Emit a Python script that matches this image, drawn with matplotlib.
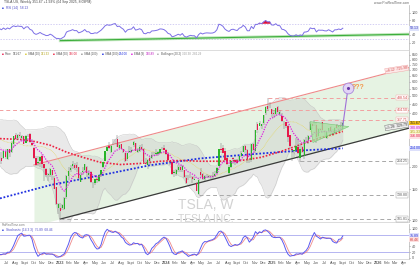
import numpy as np
import pandas as pd
import matplotlib
matplotlib.use('Agg')
import matplotlib.pyplot as plt
import matplotlib.dates as mdates
from matplotlib.ticker import FixedLocator, NullLocator

plt.rcParams['font.family'] = ['Liberation Sans', 'DejaVu Sans']

# ---- weekly TSLA candles, first week 2022-01-24 ----
week_start = '2022-01-24'
opens = [301, 290, 306, 287, 280, 271, 285, 260, 305, 350, 363, 327, 330, 330, 287, 277, 254, 218, 244, 239,
         225, 223, 245, 220, 251, 243, 269, 301, 290, 302, 292, 297, 272, 300, 307, 272, 255, 223, 210, 215,
         231, 208, 195, 180, 180, 191, 174, 154, 117,
         118, 118, 116, 136, 178, 193, 202, 204, 206, 199, 164, 186, 192, 199, 180, 186, 164, 163, 170, 166,
         180, 200, 217, 245, 263, 243, 276, 278, 286, 255, 268, 251, 239, 221, 242, 242, 265, 271, 243, 245,
         260, 252, 210, 204, 223, 224, 235, 236, 235, 239, 253, 255,
         250, 236, 216, 212, 185, 182, 192, 199, 192, 192, 174, 170, 176, 176, 169, 162, 140, 186, 183, 170,
         180, 176, 178, 176, 177, 184, 201, 253, 254, 245, 224, 185, 199, 223, 218, 216, 216, 229, 242, 262,
         247, 220, 218, 270, 245, 346, 340, 341, 352, 400, 441, 431, 420,
         400, 397, 432, 395, 387, 356, 355, 338, 300, 252, 245, 249, 260, 224, 259, 230, 288, 281, 321, 346,
         347, 343, 298, 327, 356, 319, 291, 317, 335, 310, 308, 345, 335, 340, 328]
highs = [311, 311, 315, 306, 285, 296, 290, 306, 340, 384, 383, 345, 368, 341, 318, 285, 264, 243, 264, 254,
         242, 245, 252, 253, 252, 280, 298, 311, 304, 314, 302, 299, 300, 304, 309, 288, 257, 229, 230, 230,
         237, 208, 196, 185, 198, 192, 177, 155, 125,
         125, 124, 136, 179, 199, 206, 217, 210, 212, 199, 186, 199, 208, 202, 191, 189, 165, 171, 174, 181,
         193, 214, 245, 263, 276, 265, 285, 285, 300, 275, 269, 253, 240, 240, 261, 257, 278, 273, 254, 264,
         268, 255, 223, 221, 226, 243, 243, 252, 245, 253, 258, 264,
         251, 243, 217, 217, 192, 195, 205, 205, 205, 193, 180, 180, 182, 177, 177, 164, 170, 198, 184, 180,
         182, 181, 180, 186, 190, 199, 252, 272, 265, 255, 234, 205, 216, 228, 220, 220, 231, 244, 261, 265,
         251, 222, 270, 273, 321, 358, 361, 346, 389, 437, 488, 462, 423,
         415, 430, 439, 419, 400, 363, 359, 342, 303, 253, 249, 291, 291, 272, 262, 286, 294, 300, 358, 351,
         367, 355, 329, 332, 357, 320, 314, 330, 338, 326, 335, 346, 344, 358, 356]
lows = [264, 275, 286, 280, 233, 270, 260, 252, 298, 346, 333, 322, 326, 286, 279, 233, 216, 206, 218, 229,
        208, 220, 221, 218, 228, 240, 258, 283, 284, 290, 280, 270, 272, 293, 271, 262, 222, 203, 203, 199,
        198, 166, 175, 167, 175, 169, 150, 122, 108,
        102, 115, 115, 132, 168, 186, 194, 192, 186, 168, 164, 180, 188, 176, 177, 162, 152, 158, 163, 165,
        176, 198, 216, 244, 252, 240, 266, 268, 260, 254, 251, 240, 212, 217, 240, 240, 260, 244, 240, 243,
        250, 210, 205, 195, 206, 222, 231, 231, 231, 236, 247, 247,
        234, 217, 206, 180, 176, 178, 187, 188, 187, 172, 160, 168, 174, 162, 168, 146, 139, 176, 168, 166,
        173, 173, 171, 170, 176, 183, 201, 240, 239, 216, 205, 182, 196, 208, 204, 207, 216, 226, 241, 240,
        210, 211, 212, 244, 238, 310, 337, 326, 345, 390, 412, 426, 380,
        378, 386, 398, 384, 355, 326, 330, 276, 253, 217, 226, 245, 237, 214, 239, 222, 273, 270, 320, 328,
        341, 273, 291, 317, 311, 293, 288, 310, 302, 298, 306, 326, 315, 327, 325]
closes = [282, 308, 287, 286, 270, 279, 265, 301, 337, 361, 341, 328, 336, 290, 288, 256, 221, 220, 232, 232,
          217, 245, 227, 252, 240, 272, 297, 288, 300, 296, 296, 270, 299, 303, 275, 265, 223, 205, 214, 228,
          208, 196, 180, 182, 194, 179, 150, 123, 123,
          113, 122, 133, 178, 190, 196, 208, 197, 198, 173, 180, 190, 208, 185, 185, 165, 165, 171, 168, 180,
          193, 214, 244, 260, 256, 261, 274, 281, 260, 266, 253, 242, 215, 238, 245, 248, 274, 244, 250, 260,
          251, 212, 207, 219, 215, 234, 235, 238, 243, 253, 252, 248,
          237, 218, 212, 183, 187, 193, 200, 191, 202, 175, 163, 170, 175, 171, 171, 147, 168, 181, 171, 177,
          179, 178, 177, 178, 183, 197, 252, 248, 239, 219, 207, 200, 216, 220, 214, 210, 230, 238, 261, 250,
          220, 220, 269, 249, 321, 320, 352, 346, 389, 436, 421, 431, 395,
          394, 426, 406, 404, 361, 355, 337, 293, 262, 249, 248, 263, 239, 252, 241, 284, 287, 298, 349, 339,
          346, 295, 325, 322, 323, 315, 313, 329, 316, 302, 329, 330, 340, 333, 351.67]

# long moving averages
sma50_dates = ['2022-06-08', '2022-08-17', '2022-10-08', '2022-11-29', '2023-01-25', '2023-03-21',
               '2023-05-19', '2023-07-27', '2023-10-05', '2023-12-13', '2024-02-20', '2024-04-29',
               '2024-07-08', '2024-09-15', '2024-11-23', '2025-01-31', '2025-04-10', '2025-06-18', '2025-09-01']
sma50_vals = [288, 285, 277, 264, 241, 226, 212, 206, 209, 215, 217, 215, 215, 217, 226, 244, 267, 292, 316]
sma200_dates = ['2022-06-08', '2022-11-29', '2023-05-19', '2023-11-06', '2024-04-29', '2024-10-16',
                '2025-04-10', '2025-09-01']
sma200_vals = [133, 158, 179, 204, 223, 235, 247, 254]

# drawings
level_prices = [488.54, 414.50, 367.71, 214.25, 138.80, 101.81]
level_starts = ['2024-12-16', '2022-01-24', '2025-05-26', '2025-04-07', '2024-04-22', '2023-01-02']
level_red = [True, True, True, False, False, False]
channel_dates = ['2022-10-03', '2026-04-17']
channel_upper = [205, 722]
channel_lower = [93.6, 329.7]
support_dates = ['2023-01-02', '2026-04-17']
support_prices = [101.81, 329.7]
triangle_dates = ['2025-05-11', '2025-09-22', '2025-05-21']
triangle_prices = [358.8, 336.5, 273.9]
arrow_dates = ['2025-09-01', '2025-09-19']
arrow_prices = [341, 555]
rsi_trend_dates = ['2023-01-02', '2026-04-17']
rsi_trend_vals = [25, 42]

month_names = ['Jan', 'Feb', 'Mar', 'Apr', 'May', 'Jun', 'Jul', 'Aug', 'Sept', 'Oct', 'Nov', 'Dec']
price_ticks = list(range(100, 900, 50))

# ---- indicators from the candles ----
dates = pd.date_range(week_start, periods=len(closes), freq='7D')
c = pd.Series(closes, index=dates)
h = pd.Series(highs, index=dates)
l = pd.Series(lows, index=dates)
ema9 = c.ewm(span=9, adjust=False).mean()
sma20 = c.rolling(20).mean()
sd20 = c.rolling(20).std(ddof=0)
bb_up, bb_lo = sma20 + 2 * sd20, sma20 - 2 * sd20
dlt = c.diff()
gain = dlt.clip(lower=0).ewm(alpha=1 / 14, adjust=False).mean()
loss = (-dlt.clip(upper=0)).ewm(alpha=1 / 14, adjust=False).mean()
rsi = 100 - 100 / (1 + gain / loss)
kraw = 100 * (c - l.rolling(14).min()) / (h.rolling(14).max() - l.rolling(14).min())
stk = kraw.rolling(3).mean()
std_ = stk.rolling(3).mean()

x = mdates.date2num(dates)
o = np.array(opens, float); cl = np.array(closes, float)
hi = np.array(highs, float); lo = np.array(lows, float)
d2n = lambda s: mdates.date2num(pd.to_datetime(s))

W, H = 420, 265
fig = plt.figure(figsize=(4.2, 2.65), dpi=100)
def pane(top, bot, **kw):
    return fig.add_axes([0, 1 - bot / H, 409 / W, (bot - top) / H], **kw)
ax_r = pane(5, 50)
ax = pane(51, 222, sharex=ax_r)
ax_s = pane(224, 259, sharex=ax_r)

xl = (d2n('2022-06-08'), d2n('2026-04-17'))
for a in (ax_r, ax, ax_s):
    a.set_xlim(*xl)
    for s in ('top', 'left'):
        a.spines[s].set_visible(False)
    a.spines['right'].set_color('#b4b4b4'); a.spines['right'].set_linewidth(0.5)
    a.spines['bottom'].set_color('#cfcfcf'); a.spines['bottom'].set_linewidth(0.5)
    a.tick_params(axis='y', which='both', left=False, labelleft=False, right=True, labelright=True,
                  length=1, width=0.4, labelsize=2.7, pad=0.8, colors='#555555')
    a.tick_params(axis='x', which='both', length=0, labelbottom=False)


def side_labels(a, items, ticks, gap=4.2):
    """coloured value boxes on the right axis, stacked so they do not collide;
    tick labels hidden under them (as the boxes cover them in the original)"""
    tr = a.transData
    bb = a.get_window_extent()
    pix = [tr.transform((xl[0], v))[1] for v, _, _ in items]
    order = np.argsort(pix)[::-1]
    placed = {}
    last = None
    for i in order:
        p = pix[i] if last is None else min(pix[i], last - gap)
        placed[i] = p
        last = p
    for i, (v, fc, tc) in enumerate(items):
        a.text(1.002, (placed[i] - bb.y0) / bb.height, f'{v:.2f}', transform=a.transAxes, ha='left',
               va='center', fontsize=2.6, color=tc, clip_on=False, zorder=9,
               bbox=dict(boxstyle='square,pad=0.15', fc=fc, ec='none'))
    keep = [t for t in ticks if all(abs(tr.transform((xl[0], t))[1] - p) > gap for p in placed.values())]
    a.yaxis.set_major_locator(FixedLocator(keep))
    a.set_yticklabels([f'{t:g}' for t in keep])


# ---- main pane ----
ax.set_yscale('log')
ax.set_ylim(98, 894)
ax.yaxis.set_minor_locator(NullLocator())

cx = d2n(channel_dates)
ax.fill_between(cx, channel_lower, channel_upper, color='#dcefd8', alpha=0.7, lw=0, zorder=0)
ax.fill_between(x, bb_lo, bb_up, color='#c9c9c9', alpha=0.4, lw=0, zorder=1)
ax.plot(x, bb_up, color='#c4c4c4', lw=0.35, zorder=1)
ax.plot(x, bb_lo, color='#c4c4c4', lw=0.35, zorder=1)
ax.plot(cx, channel_upper, color='#ee8a8a', lw=0.8, zorder=2)
ax.plot(d2n(support_dates), support_prices, color='#3a3a3a', lw=0.9, zorder=2)

for p, s, red in zip(level_prices, level_starts, level_red):
    ax.hlines(p, d2n(s), xl[1], colors='#f2a0a0' if red else '#a8a8a8', lw=0.7,
              linestyles=(0, (4, 3)), zorder=2)
    ax.text(0.997, p, f'{p:.2f}', transform=ax.get_yaxis_transform(), ha='right', va='center',
            fontsize=2.5, color='#d04040' if red else '#555555', zorder=7,
            bbox=dict(boxstyle='square,pad=0.2', fc='white', ec='#f0a0a0' if red else '#999999', lw=0.3))
ax.text(0.997, channel_upper[-1] * 0.975, '+4.12  721.90', transform=ax.get_yaxis_transform(), ha='right',
        va='center', fontsize=2.5, color='#d04040', rotation=9, zorder=7,
        bbox=dict(boxstyle='square,pad=0.2', fc='#fde8e8', ec='#f0a0a0', lw=0.3))
ax.text(0.997, channel_lower[-1] * 1.025, '+1.28  329.70', transform=ax.get_yaxis_transform(), ha='right',
        va='center', fontsize=2.5, color='#333333', rotation=9, zorder=7,
        bbox=dict(boxstyle='square,pad=0.2', fc='#eeeeee', ec='#666666', lw=0.3))

ax.plot(x, sma20, color='#e4d65a', lw=0.5, ls=(0, (1, 1)), zorder=3)
ax.plot(d2n(sma200_dates), sma200_vals, color='#1f2fe0', lw=1.3, ls=(0, (1, 1)), zorder=3)
ax.plot(d2n(sma50_dates), sma50_vals, color='#ee2040', lw=1.2, ls=(0, (1, 1)), zorder=3)

up = cl >= o
ax.vlines(x, lo, hi, color='#707070', lw=0.35, zorder=4)
for m, col in ((up, '#27b527'), (~up, '#e6194b')):
    bot = np.minimum(o, cl)[m]; top = np.maximum(o, cl)[m]
    ax.bar(x[m], np.maximum(top - bot, bot * 0.004), bottom=bot, width=4.6, color=col, lw=0, zorder=4)
ax.plot(x, ema9, color='#e020e0', lw=0.9, ls=(0, (1, 1)), zorder=5)

ax.fill(d2n(triangle_dates), triangle_prices, fc='#a8e0a0', ec='#5cbf5c', lw=0.4, alpha=0.75, zorder=5)
ax.plot(d2n(arrow_dates), arrow_prices, color='#a070d8', lw=0.8, zorder=6)
ax.scatter(d2n(arrow_dates[-1:]), arrow_prices[-1:], s=60, fc='#e2d4f6', ec='#a888dc', lw=0.6, zorder=7)
ax.scatter(d2n(arrow_dates[-1:]), arrow_prices[-1:], s=1.5, c='#6a3aa8', zorder=8)
ax.text(d2n('2025-10-03'), arrow_prices[-1], '???', color='#f29a50', fontsize=5, fontweight='bold',
        va='center', ha='left', zorder=8)

side_labels(ax, [(cl[-1], '#f6c21c', '#222222'), (ema9.iloc[-1], '#fbe0fb', '#c018c0'),
                 (sma20.iloc[-1], '#fbf6cf', '#a89a10'), (sma50_vals[-1], '#fde0e3', '#e01a3a'),
                 (sma200_vals[-1], '#dde0fb', '#1f2fe0')], price_ticks)

# ---- RSI pane ----
ax_r.set_ylim(0, 120)
ax_r.axhline(70, color='#c2bbef', lw=0.5, ls=(0, (2, 2)))
ax_r.axhline(30, color='#c2bbef', lw=0.5, ls=(0, (2, 2)))
ax_r.plot(d2n(rsi_trend_dates), rsi_trend_vals, color='#a6dca0', lw=2.2, alpha=0.7)
ax_r.plot(d2n(rsi_trend_dates), rsi_trend_vals, color='#3cae3c', lw=0.8)
ax_r.plot(x, rsi, color='#7c6fe6', lw=0.7)
ax_r.fill_between(x, 70, rsi, where=rsi > 70, color='#e01038', lw=0, interpolate=True)
ax_r.fill_between(x, 30, rsi, where=rsi < 30, color='#204ea0', lw=0, interpolate=True)
side_labels(ax_r, [(rsi.iloc[-1], '#dde2fb', '#4040c0')], [20, 40, 60, 80, 100])

# ---- stochastic pane ----
ax_s.set_ylim(-3.5, 117)
ax_s.axhline(80, color='#a9a9ef', lw=0.6)
ax_s.axhline(20, color='#a9a9ef', lw=0.6)
ax_s.plot(x, std_, color='#f08a8a', lw=0.6)
ax_s.plot(x, stk, color='#5a5af0', lw=0.7)
side_labels(ax_s, [(stk.iloc[-1], '#dde0fb', '#3030d0'), (std_.iloc[-1], '#fde0e0', '#d04040')],
            [0, 20, 40, 60, 80, 100], gap=3.8)

months = pd.date_range('2022-07-01', '2026-04-01', freq='MS')
ax_s.set_xticks(mdates.date2num(months))
ax_s.set_xticklabels([str(m.year) if m.month == 1 else month_names[m.month - 1] for m in months])
ax_s.tick_params(axis='x', labelbottom=True, labelsize=2.7, pad=1.2, colors='#555555')
for t, m in zip(ax_s.get_xticklabels(), months):
    if m.month == 1:
        t.set_fontweight('bold')

# ---- texts ----
renderer = fig.canvas.get_renderer()

def ftxt(px, py, s, **kw):
    kw.setdefault('fontsize', 2.3)
    kw.setdefault('va', 'center')
    t = fig.text(px / W, 1 - py / H, s, **kw)
    return t.get_window_extent(renderer).x1

ftxt(4, 2.5, 'TSLA.US, Weekly 351.67 +1.93% (04 Sep 2025, 8:09PM)', color='#444444', fontsize=2.4)
ftxt(409, 2.5, 'www.ProRealTime.com', color='#666666', fontsize=2.4, ha='right')
ftxt(2, 8, '■', color='#3344dd', fontsize=2.2)
ftxt(5.5, 8, f'RSI (14)  {rsi.iloc[-1]:.2f}', color='#5050c8')

leg = [('#e6194b', 'Price', f'{cl[-1]:.2f}', '#444444'),
       ('#d8c830', 'SMA (20)', f'{sma20.iloc[-1]:.2f}', '#b0a010'),
       ('#ee2040', 'SMA (50)', f'{sma50_vals[-1]:.2f}', '#e01a3a'),
       ('#999999', 'SMA (100)', '', '#888888'),
       ('#1f2fe0', 'SMA (200)', f'{sma200_vals[-1]:.2f}', '#1f2fe0'),
       ('#e020e0', 'EMA (9)', f'{ema9.iloc[-1]:.2f}', '#c018c0'),
       ('#aaaaaa', 'Bollinger (20 2)', f'{bb_up.iloc[-1]:.2f}  {bb_lo.iloc[-1]:.2f}', '#999999')]
px = 2
for sq, name, val, vc in leg:
    ftxt(px, 54, '■', color=sq, fontsize=2.2)
    px = ftxt(px + 3.2, 54, name, color='#555555', fontsize=2.1) + 1.0
    if val:
        px = ftxt(px, 54, val, color=vc, fontsize=2.1)
    px += 3.0

ftxt(2, 225.3, 'ProRealTime.com', color='#777777', fontsize=2.1)
ftxt(2, 230, '■', color='#3344dd', fontsize=2.2)
ftxt(5.5, 230, f'Stochastic (14 3 3)  {stk.iloc[-1]:.2f}  {std_.iloc[-1]:.2f}', color='#5050c8')

ftxt(178, 205, 'TSLA, W', color='#d2d2d2', fontsize=10, ha='left')
ftxt(178, 219, 'TESLA INC.', color='#d2d2d2', fontsize=7.5, ha='left')

fig.savefig('out.png', dpi=100)
